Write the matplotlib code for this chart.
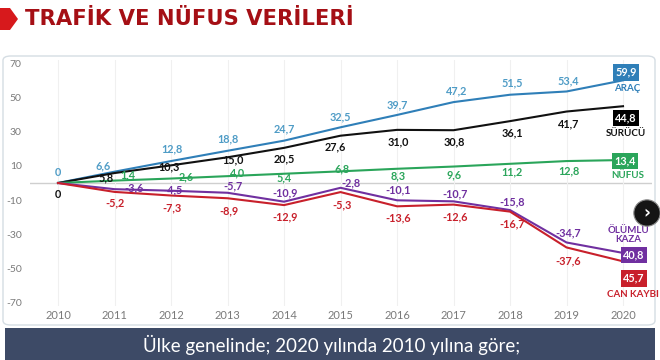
import matplotlib
matplotlib.use("Agg")
import matplotlib.pyplot as plt
from matplotlib.patches import FancyBboxPatch, Polygon, Rectangle

# veriler
years = [2010, 2011, 2012, 2013, 2014, 2015, 2016, 2017, 2018, 2019, 2020]
arac = [0, 6.6, 12.8, 18.8, 24.7, 32.5, 39.7, 47.2, 51.5, 53.4, 59.9]
surucu = [0, 5.8, 10.3, 15.0, 20.5, 27.6, 31.0, 30.8, 36.1, 41.7, 44.8]
nufus = [0, 1.4, 2.6, 4.0, 5.4, 6.8, 8.3, 9.6, 11.2, 12.8, 13.4]
olumlu_kaza = [0, -3.6, -4.5, -5.7, -10.9, -2.8, -10.1, -10.7, -15.8, -34.7, -40.8]
can_kaybi = [0, -5.2, -7.3, -8.9, -12.9, -5.3, -13.6, -12.6, -16.7, -37.6, -45.7]
yticks = [-70, -50, -30, -10, 10, 30, 50, 70]

W, H = 660, 360
FONT = ["Lato", "DejaVu Sans"]


def px(x, y):
    return (x / W, 1 - y / H)


def fmt(v):
    return ("%.1f" % v).replace(".", ",")


fig = plt.figure(figsize=(6.6, 3.6), dpi=100)
fig.patch.set_facecolor("white")

# başlık
fig.patches.append(Polygon([px(0, 8), px(10, 8), px(18, 19), px(10, 30), px(0, 30)],
                           closed=True, transform=fig.transFigure, fc="#d7191c", ec="none"))
fig.text(*px(25, 19), "TRAFİK VE NÜFUS VERİLERİ", fontsize=15.2, fontweight="heavy",
         color="#a50f15", va="center", ha="left", family="DejaVu Sans")

# panel
x0, y0 = px(3, 325)
x1, y1 = px(655, 56)
fig.patches.append(FancyBboxPatch((x0, y0), x1 - x0, y1 - y0,
                                  boxstyle="round,pad=0,rounding_size=0.012",
                                  transform=fig.transFigure, fc="white", ec="#d5dde3", lw=1))

# alt bant
bx0, by0 = px(5, 362)
bx1, by1 = px(655, 328)
fig.patches.append(Rectangle((bx0, by0), bx1 - bx0, by1 - by0, transform=fig.transFigure,
                             fc="#3d4a66", ec="none"))
fig.text(*px(332, 345), "Ülke genelinde; 2020 yılında 2010 yılına göre;", color="white",
         fontsize=13.5, ha="center", va="center", family=FONT)

ax = fig.add_axes([30 / W, 1 - 306.4 / H, 622 / W, (306.4 - 59.6) / H])
ax.set_zorder(3)
ax.set_xlim(2009.504, 2020.513)
ax.set_ylim(-72, 72)
for s in ax.spines.values():
    s.set_visible(False)
ax.set_facecolor("none")
ax.set_yticks(yticks)
ax.set_yticklabels([str(t) for t in yticks], color="#7a7a7a", fontsize=7.5, family=FONT)
ax.set_xticks(years)
ax.set_xticklabels([str(y) for y in years], color="#7a7a7a", fontsize=8, family=FONT)
ax.tick_params(length=0)
ax.tick_params(axis="y", pad=6)
ax.tick_params(axis="x", pad=2.5)
ax.grid(axis="x", color="#f0f0f0", lw=0.8)
ax.axhline(0, color="#cfcfcf", lw=1, zorder=1)

c_arac, c_arac_t = "#2f7fb8", "#4f9cc6"
c_sur = "#111111"
c_nuf = "#2aa55a"
c_olu = "#7030a0"
c_can = "#c8202b"

ax.plot(years, arac, color=c_arac, lw=1.5, zorder=3)
ax.plot(years, surucu, color=c_sur, lw=1.5, zorder=3)
ax.plot(years, nufus, color=c_nuf, lw=1.5, zorder=3)
ax.plot(years, olumlu_kaza, color=c_olu, lw=1.5, zorder=3)
ax.plot(years, can_kaybi, color=c_can, lw=1.5, zorder=3)

# etiket kaymalari (piksel)
off_arac = [(0, 11), (-11, 6), (1, 12), (0, 12), (0, 12), (0, 10), (0, 10), (3, 11), (2, 12), (2, 11)]
off_sur = [(0, -12), (-8, -5), (-2, -1), (5, -3), (0, -11), (-5, -11), (1, -12), (1, -12), (2, -12), (2, -12)]
off_nuf = [None, (13, 6), (15, 2), (10, 3), (0, -4), (2, 3), (1, -7), (1, -8), (2, -8), (2, -10)]
off_olu = [None, (20, 1), (2, 1), (5, 7), (1, 9), (10, 5), (1, 10), (2, 7), (2, 8), (2, 10)]
off_can = [None, (0, -11), (1, -12), (1, -13), (1, -12), (2, -13), (1, -12), (2, -12), (2, -12), (2, -13)]


def labels(vals, offs, color):
    for i, (yr, v) in enumerate(zip(years[:-1], vals[:-1])):
        o = offs[i]
        if o is None:
            continue
        t = "0" if i == 0 else fmt(v)
        ax.annotate(t, (yr, v), xytext=o, textcoords="offset pixels", ha="center", va="center",
                    fontsize=7.8, fontweight="bold", color=color, family=FONT, zorder=5)


labels(arac, off_arac, c_arac_t)
labels(surucu, off_sur, c_sur)
labels(nufus, off_nuf, c_nuf)
labels(olumlu_kaza, off_olu, c_olu)
labels(can_kaybi, off_can, c_can)


def end_box(v, off, fc):
    ax.annotate(fmt(abs(v)), (years[-1], v), xytext=off, textcoords="offset pixels",
                ha="center", va="center", fontsize=7.8, fontweight="bold", color="white",
                family=FONT, zorder=6, annotation_clip=False,
                bbox=dict(boxstyle="square,pad=0.25", fc=fc, ec="none"))


def end_name(v, off, text, color):
    ax.annotate(text, (years[-1], v), xytext=off, textcoords="offset pixels",
                ha="center", va="center", fontsize=7, fontweight="bold", color=color,
                family=FONT, zorder=6, annotation_clip=False, linespacing=1.1)


end_box(arac[-1], (3, 8), c_arac)
end_name(arac[-1], (4, -8), "ARAÇ", c_arac)
end_box(surucu[-1], (3, -12), "#000000")
end_name(surucu[-1], (3, -27), "SÜRÜCÜ", c_sur)
end_box(nufus[-1], (2, -1), c_nuf)
end_name(nufus[-1], (5, -15), "NÜFUS", c_nuf)
end_name(olumlu_kaza[-1], (5, 18), "ÖLÜMLÜ\nKAZA", c_olu)
end_box(olumlu_kaza[-1], (11, -2), c_olu)
end_box(can_kaybi[-1], (11, -17), c_can)
end_name(can_kaybi[-1], (10, -33), "CAN KAYBI", c_can)

# sag kenardaki ok dugmesi
fig.text(*px(647, 213), "›", color="white", fontsize=12, fontweight="bold", ha="center",
         va="center", family="DejaVu Sans", zorder=10,
         bbox=dict(boxstyle="circle,pad=0.25", fc="#151515", ec="#888888", lw=0.8))

fig.savefig("out.png", dpi=100)
